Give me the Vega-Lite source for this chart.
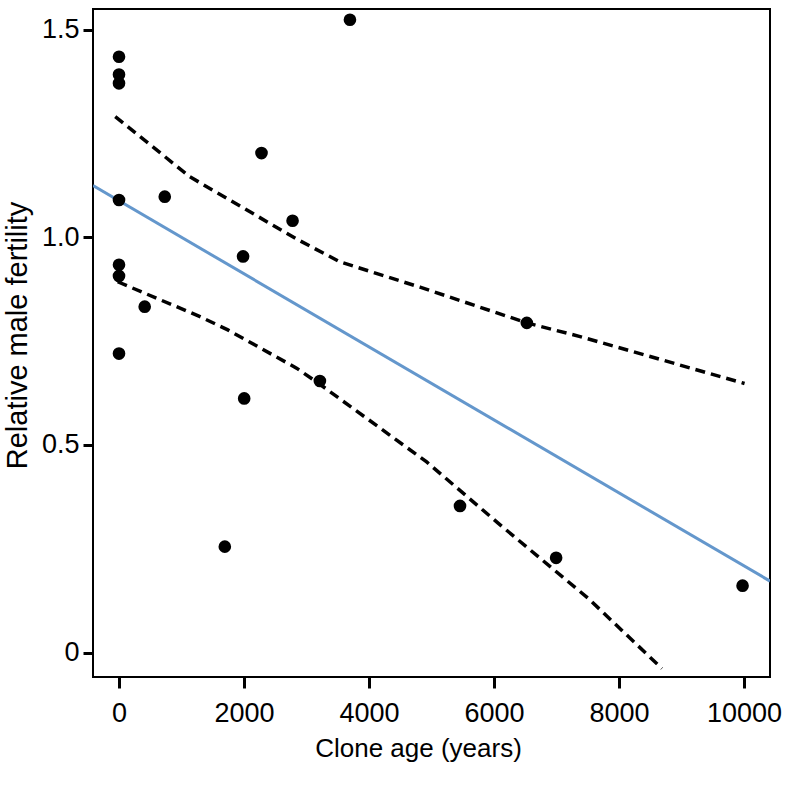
{
  "$schema": "https://vega.github.io/schema/vega-lite/v6.json",
  "width": 677,
  "height": 668,
  "autosize": {"type": "none"},
  "padding": {"left": 93, "top": 9, "right": 26, "bottom": 112},
  "background": "white",
  "config": {
    "view": {"stroke": "black", "strokeWidth": 2},
    "font": "Liberation Sans",
    "axis": {
      "grid": false,
      "domain": false,
      "tickColor": "black",
      "tickWidth": 3,
      "labelColor": "black",
      "titleColor": "black",
      "labelFont": "Liberation Sans",
      "titleFont": "Liberation Sans",
      "labelFontSize": 27,
      "titleFontWeight": "normal"
    }
  },
  "datasets": {
    "pts": [
      {"age": 0, "fert": 1.435},
      {"age": 0, "fert": 1.392},
      {"age": 0, "fert": 1.371},
      {"age": 0, "fert": 1.090},
      {"age": 0, "fert": 0.934},
      {"age": 0, "fert": 0.907},
      {"age": 0, "fert": 0.720},
      {"age": 411, "fert": 0.833},
      {"age": 732, "fert": 1.098},
      {"age": 1693, "fert": 0.255},
      {"age": 1985, "fert": 0.954},
      {"age": 2003, "fert": 0.612},
      {"age": 2280, "fert": 1.203},
      {"age": 2777, "fert": 1.040},
      {"age": 3214, "fert": 0.654},
      {"age": 3695, "fert": 1.524},
      {"age": 5456, "fert": 0.353},
      {"age": 6525, "fert": 0.794},
      {"age": 6994, "fert": 0.228},
      {"age": 9977, "fert": 0.161}
    ],
    "fit": [
      {"age": -416, "fert": 1.1246},
      {"age": 10416, "fert": 0.172}
    ],
    "ci": [
      {"band": "upper", "age": -60, "fert": 1.291},
      {"band": "upper", "age": 1132, "fert": 1.146},
      {"band": "upper", "age": 2841, "fert": 0.996},
      {"band": "upper", "age": 3535, "fert": 0.941},
      {"band": "upper", "age": 4816, "fert": 0.880},
      {"band": "upper", "age": 6525, "fert": 0.794},
      {"band": "upper", "age": 7378, "fert": 0.761},
      {"band": "upper", "age": 10009, "fert": 0.648},
      {"band": "lower", "age": -21, "fert": 0.893},
      {"band": "lower", "age": 1296, "fert": 0.809},
      {"band": "lower", "age": 1741, "fert": 0.777},
      {"band": "lower", "age": 2841, "fert": 0.685},
      {"band": "lower", "age": 3214, "fert": 0.646},
      {"band": "lower", "age": 4923, "fert": 0.459},
      {"band": "lower", "age": 6070, "fert": 0.311},
      {"band": "lower", "age": 7511, "fert": 0.130},
      {"band": "lower", "age": 8687, "fert": -0.0386}
    ]
  },
  "layer": [
    {
      "data": {"name": "ci"},
      "mark": {"type": "line", "color": "black", "strokeWidth": 3.5, "strokeDash": [10, 6]},
      "encoding": {
        "x": {"field": "age", "type": "quantitative", "scale": {"domain": [-416, 10416], "nice": false, "zero": false},
          "axis": {"values": [0, 2000, 4000, 6000, 8000, 10000], "format": "d", "title": "Clone age (years)", "titleFontSize": 26, "tickSize": 11, "labelPadding": 12, "titlePadding": 9, "titleX": 325}},
        "y": {"field": "fert", "type": "quantitative", "scale": {"domain": [-0.059, 1.55], "nice": false, "zero": false},
          "axis": {"values": [0, 0.5, 1, 1.5], "labelExpr": "datum.value == 0 ? '0' : format(datum.value, '.1f')", "title": "Relative male fertility", "titleFontSize": 29, "tickSize": 10, "labelPadding": 4, "titlePadding": 9, "titleY": 326}},
        "detail": {"field": "band"}
      }
    },
    {
      "data": {"name": "fit"},
      "mark": {"type": "line", "color": "#6497cc", "strokeWidth": 3, "clip": true},
      "encoding": {
        "x": {"field": "age", "type": "quantitative"},
        "y": {"field": "fert", "type": "quantitative"}
      }
    },
    {
      "data": {"name": "pts"},
      "mark": {"type": "point", "filled": true, "color": "black", "opacity": 1, "size": 160},
      "encoding": {
        "x": {"field": "age", "type": "quantitative"},
        "y": {"field": "fert", "type": "quantitative"}
      }
    }
  ]
}
